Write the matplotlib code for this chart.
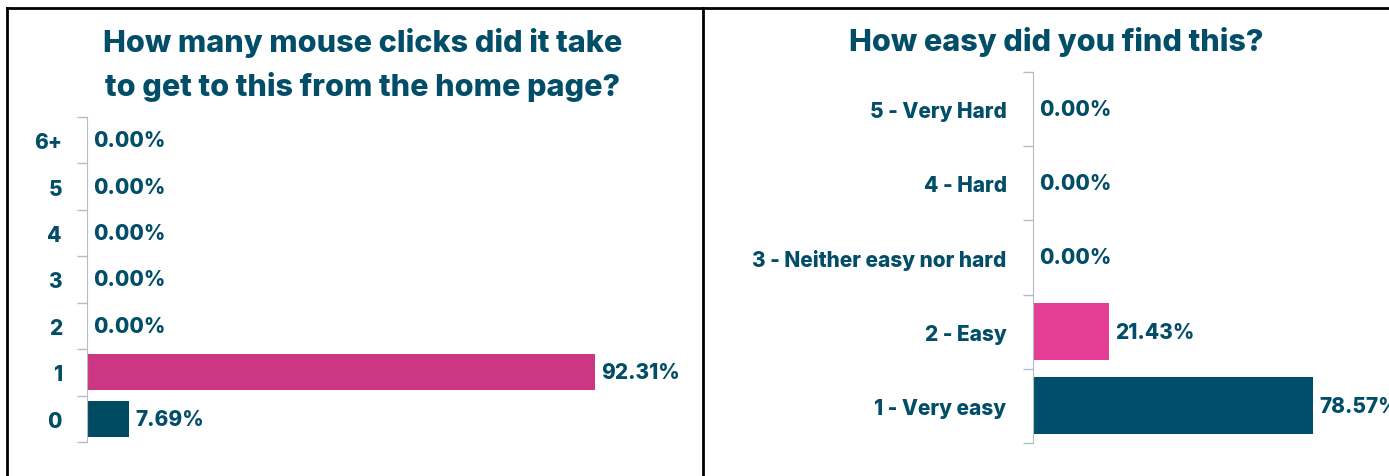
import matplotlib.pyplot as plt
from matplotlib.lines import Line2D
import numpy as np

# survey data
clicks_labels = ['0', '1', '2', '3', '4', '5', '6+']
clicks_values = [7.69, 92.31, 0.0, 0.0, 0.0, 0.0, 0.0]
clicks_colors = ['#004a63', '#cc3682', '#004a63', '#004a63', '#004a63', '#004a63', '#004a63']

ease_labels = ['1 - Very easy', '2 - Easy', '3 - Neither easy nor hard', '4 - Hard', '5 - Very Hard']
ease_values = [78.57, 21.43, 0.0, 0.0, 0.0]
ease_colors = ['#004f6a', '#e63e95', '#004f6a', '#004f6a', '#004f6a']

TEXT = '#024d68'
GRID = '#b4bcc4'
plt.rcParams['font.family'] = ['Inter', 'DejaVu Sans']

W, H = 1389, 477
fig = plt.figure(figsize=(W / 100, H / 100), dpi=100)


def px_axes(x0, y0, x1, y1):
    return fig.add_axes([x0 / W, 1 - y1 / H, (x1 - x0) / W, (y1 - y0) / H])


def hbar(ax, labels, values, colors, pad):
    y = np.arange(len(labels))
    bars = ax.barh(y, values, height=0.77, color=colors)
    ax.set_xlim(0, 100)
    ax.set_ylim(-0.5, len(labels) - 0.5)
    ax.set_yticks(y)
    ax.set_yticklabels(labels, fontsize=15, fontweight='heavy', color=TEXT)
    ax.tick_params(axis='y', which='major', length=0, pad=pad)
    ax.set_yticks(np.arange(len(labels) + 1) - 0.5, minor=True)
    ax.tick_params(axis='y', which='minor', length=7, color=GRID, width=1)
    ax.set_xticks([])
    for s in ['top', 'right', 'bottom']:
        ax.spines[s].set_visible(False)
    ax.spines['left'].set_color(GRID)
    for b, v in zip(bars, values):
        ax.annotate(f'{v:.2f}%', (v, b.get_y() + b.get_height() / 2),
                    xytext=(4.5, 0), textcoords='offset points', va='center',
                    fontsize=15, fontweight='heavy', color=TEXT, annotation_clip=False)


ax1 = px_axes(87, 118, 637, 443)
hbar(ax1, clicks_labels, clicks_values, clicks_colors, 18)
ax2 = px_axes(1033, 73, 1389, 444)
hbar(ax2, ease_labels, ease_values, ease_colors, 19)

fig.text(363 / W, 1 - 65 / H, 'How many mouse clicks did it take\nto get to this from the home page?',
         ha='center', va='center', fontsize=22, fontweight='heavy', color=TEXT, linespacing=1.55)
fig.text(1056 / W, 1 - 42 / H, 'How easy did you find this?',
         ha='center', va='center', fontsize=22, fontweight='heavy', color=TEXT)

# panel borders
for xs, ys in [([7, W], [9, 9]), ([7, 7], [9, H]), ([703, 703], [9, H])]:
    fig.add_artist(Line2D([x / W for x in xs], [1 - y / H for y in ys], color='black', lw=2))

fig.savefig('out.png', dpi=100)
